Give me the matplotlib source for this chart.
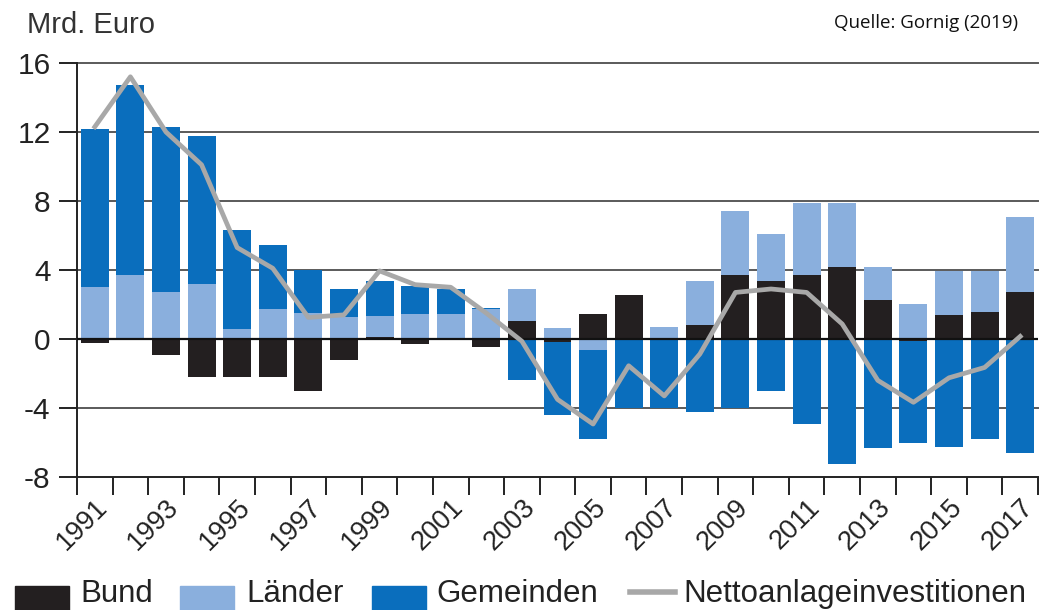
import matplotlib
matplotlib.use('Agg')
import matplotlib.pyplot as plt
import matplotlib.transforms as mtransforms
import numpy as np
from matplotlib.patches import Rectangle
from matplotlib.lines import Line2D

years = list(range(1991, 2018))
bund = [-0.25, 0.0, -0.9, -2.2, -2.2, -2.2, -3.0, -1.2, 0.1, -0.3, 0.05, -0.45, 1.03, -0.2,
        1.43, 2.55, 0.0, 0.81, 3.7, 3.34, 3.7, 4.15, 2.26, -0.12, 1.39, 1.58, 2.7]
laender = [3.0, 3.7, 2.73, 3.18, 0.6, 1.73, 1.5, 1.26, 1.25, 1.45, 1.4, 1.75, 1.87, 0.64,
           -0.65, 0.0, 0.67, 2.53, 3.73, 2.76, 4.2, 3.75, 1.89, 2.03, 2.57, 2.38, 4.4]
gemeinden = [9.2, 11.0, 9.54, 8.57, 5.7, 3.72, 2.5, 1.64, 2.0, 1.65, 1.45, 0.05, -2.4, -4.22,
             -5.15, -4.0, -4.0, -4.25, -4.0, -3.0, -4.9, -7.25, -6.34, -5.88, -6.24, -5.8, -6.6]
netto = [12.3, 15.2, 12.0, 10.1, 5.3, 4.1, 1.25, 1.4, 3.95, 3.15, 3.0, 1.5, -0.13, -3.5,
         -4.93, -1.55, -3.3, -0.87, 2.7, 2.9, 2.7, 0.87, -2.4, -3.67, -2.25, -1.65, 0.15]
yticks = [-8, -4, 0, 4, 8, 12, 16]
label_years = years[::2]

series = [('Bund', bund, '#231f20'), ('Länder', laender, '#8aafdd'), ('Gemeinden', gemeinden, '#0a6ebd')]
netto_color = '#a8a8a8'

plt.rcParams['font.family'] = ['Liberation Sans', 'DejaVu Sans']

fig = plt.figure(figsize=(10.45, 6.1), dpi=100)
ax = fig.add_axes([77 / 1045, 1 - 477 / 610, (1038 - 77) / 1045, (477 - 63) / 610])

x = np.array(years)
pos = np.zeros(len(years))
neg = np.zeros(len(years))
for name, vals, col in series:
    v = np.array(vals)
    bottom = np.where(v >= 0, pos, neg)
    ax.bar(x, v, width=0.785, bottom=bottom, color=col, edgecolor='none', zorder=2)
    pos = pos + np.clip(v, 0, None)
    neg = neg + np.clip(v, None, 0)

ax.plot(x, netto, color=netto_color, lw=3.4, zorder=4)

for v in [-4, 4, 8, 12, 16]:
    ax.axhline(v, color='#5a5a5a', lw=1.4, zorder=1, clip_on=False)
ax.axhline(0, color='#111111', lw=1.6, zorder=3)

ax.set_xlim(1990.5, 2017.5)
ax.set_ylim(-8, 16)
ax.set_yticks(yticks)
ax.set_yticklabels([str(t) for t in yticks])
ax.set_xticks(np.arange(1990.5, 2018, 1.0))
ax.set_xticklabels([])
ax.set_xticks(label_years, minor=True)
ax.set_xticklabels([str(y) for y in label_years], minor=True, rotation=45, ha='right',
                   rotation_mode='anchor', va='center')
ax.tick_params(axis='x', which='major', length=13, width=1.4, color='#222222')
ax.tick_params(axis='x', which='minor', length=0, pad=19, labelsize=19.5, labelcolor='#222222')
ax.tick_params(axis='y', length=13, width=1.4, color='#222222', pad=6, labelsize=21.5,
               labelcolor='#222222')
shift = mtransforms.ScaledTranslation(9 / 100, 0, fig.dpi_scale_trans)
for lab in ax.get_xticklabels(minor=True):
    lab.set_transform(lab.get_transform() + shift)
for s in ['top', 'right']:
    ax.spines[s].set_visible(False)
for s in ['left', 'bottom']:
    ax.spines[s].set_linewidth(1.4)
    ax.spines[s].set_color('#222222')

fig.text(27 / 1045, 1 - 33 / 610, 'Mrd. Euro', fontsize=21, color='#333333', ha='left', va='baseline')
fig.text(1018 / 1045, 1 - 28 / 610, 'Quelle: Gornig (2019)', fontsize=13.5, color='#111111',
         ha='right', va='baseline', family=['Open Sans', 'DejaVu Sans'])

# legend along the bottom edge
leg_y = 1 - 612 / 610
leg_h = 26 / 610
items = [(15, 80, 'Bund', '#231f20'), (180, 246, 'Länder', '#8aafdd'),
         (372, 436, 'Gemeinden', '#0a6ebd')]
for x0, tx, name, col in items:
    fig.patches.append(Rectangle((x0 / 1045, leg_y), 54 / 1045, leg_h, transform=fig.transFigure,
                                 color=col, clip_on=False))
    fig.text(tx / 1045, 1 / 610, name, fontsize=22.5, color='#222222', ha='left', va='bottom')
fig.lines.append(Line2D([630 / 1045, 675 / 1045], [1 - 592 / 610, 1 - 592 / 610],
                        transform=fig.transFigure, color=netto_color, lw=4))
fig.text(683 / 1045, 1 / 610, 'Nettoanlageinvestitionen', fontsize=22.5, color='#222222',
         ha='left', va='bottom')

fig.savefig('out.png', dpi=100)
